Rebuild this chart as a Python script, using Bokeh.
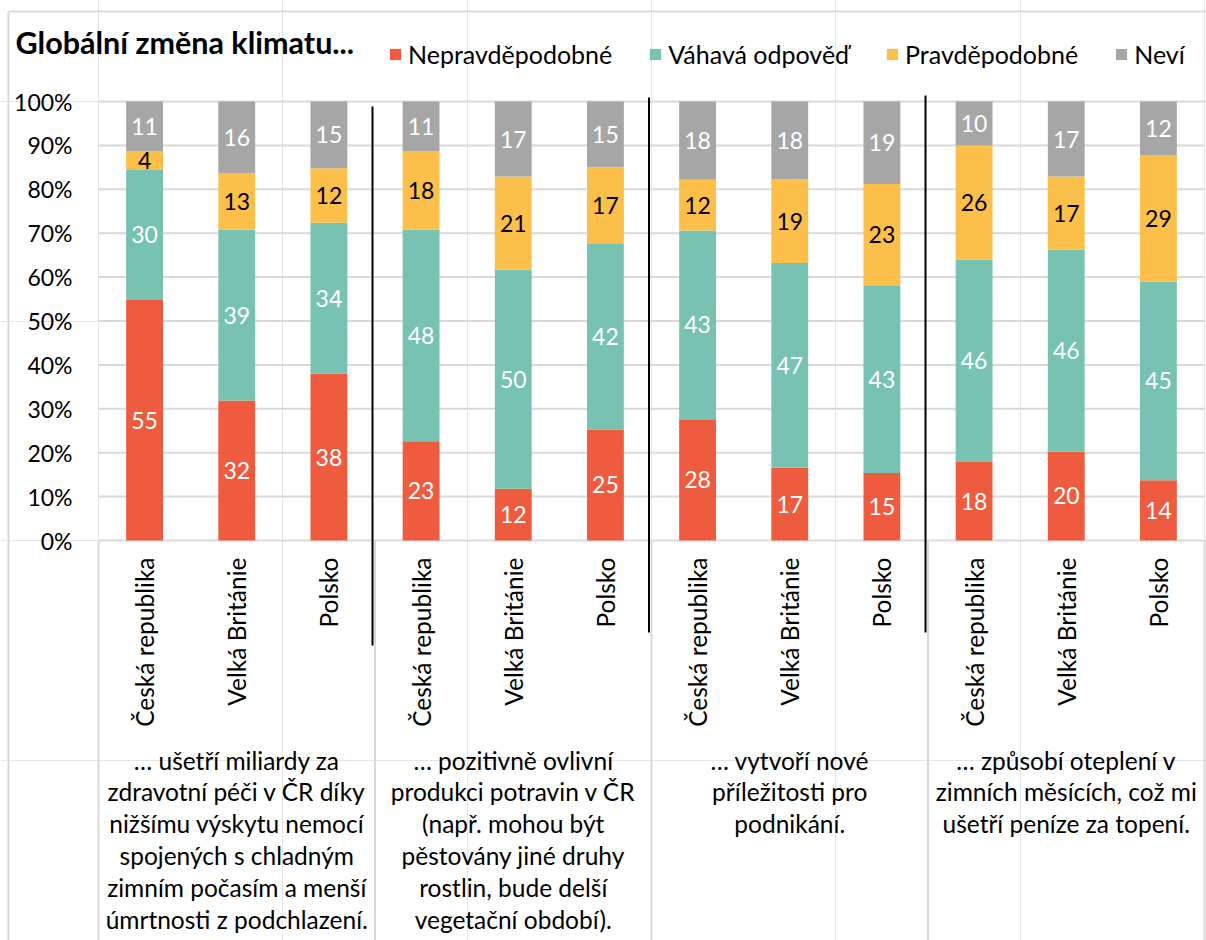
import numpy as np
from bokeh.plotting import figure
from bokeh.models import ColumnDataSource, Range1d, Legend, LegendItem
from bokeh.core.properties import value
from bokeh.embed import file_html
from bokeh.resources import INLINE

# ---------------- data ----------------
title_text = "Globální změna klimatu..."
series = ["Nepravděpodobné", "Váhavá odpověď", "Pravděpodobné", "Neví"]
countries = ["Česká republika", "Velká Británie", "Polsko"]
groups = [
    "… ušetří miliardy za\nzdravotní péči v ČR díky\nnižšímu výskytu nemocí\nspojených s chladným\nzimním počasím a menší\númrtnosti z podchlazení.",
    "… pozitivně ovlivní\nprodukci potravin v ČR\n(např. mohou být\npěstovány jiné druhy\nrostlin, bude delší\nvegetační období).",
    "… vytvoří nové\npříležitosti pro\npodnikání.",
    "… způsobí oteplení v\nzimních měsících, což mi\nušetří peníze za topení.",
]
nepravdepodobne = [54.8, 31.9, 38.0, 22.6, 11.8, 25.3, 27.6, 16.6, 15.4, 17.9, 20.3, 13.7]
vahava_odpoved = [29.6, 38.9, 34.4, 48.2, 49.9, 42.4, 43.0, 46.6, 42.6, 46.1, 46.0, 45.3]
pravdepodobne = [4.2, 12.8, 12.4, 17.8, 21.2, 17.3, 11.6, 19.1, 23.2, 26.0, 16.6, 28.7]
nevi = [11.4, 16.4, 15.2, 11.4, 17.1, 15.0, 17.8, 17.7, 18.8, 10.0, 17.1, 12.3]
y_ticks = list(range(0, 101, 10))
y_tick_labels = [f"{t}%" for t in y_ticks]

# ---------------- style / layout ----------------
colors = ["#EF5B3F", "#78C2B1", "#FCBF4A", "#A6A6A6"]
label_colors = ["#FFFFFF", "#FFFFFF", "#000000", "#FFFFFF"]
FONT = "Lato"
GRID = "#D9D9D9"
W, H = 1206, 940
PLOT_L, PLOT_R = 98, 1204      # pixel extent of the category area
ZERO_Y, TOP_Y = 540, 101       # pixel rows of 0 % and 100 %
n_slots = len(groups) * len(countries)
SLOT_PX = (PLOT_R - PLOT_L) / n_slots
PX_PER_PCT = (ZERO_Y - TOP_Y) / 100.0

def ydata(py):
    return (ZERO_Y - py) / PX_PER_PCT

def xdata(px):
    return (px - PLOT_L) / SLOT_PX

p = figure(width=W, height=H, output_backend="svg", toolbar_location=None,
           x_range=Range1d(xdata(0), xdata(W)), y_range=Range1d(ydata(H), ydata(0)),
           x_axis_location=None, y_axis_location=None, min_border=0)
p.outline_line_color = None
p.background_fill_color = "white"
p.border_fill_color = "white"

# outer chart border (left + top)
p.segment(x0=[xdata(8), xdata(8)], y0=[ydata(11), ydata(11)],
          x1=[xdata(8), xdata(W + 5)], y1=[ydata(H + 5), ydata(11)],
          line_color=GRID, line_width=2)

# horizontal gridlines
p.segment(x0=[0] * len(y_ticks), y0=y_ticks, x1=[n_slots] * len(y_ticks), y1=y_ticks,
          line_color=GRID, line_width=2)

# y tick labels
p.text(x=[xdata(72)] * len(y_ticks), y=y_ticks, text=y_tick_labels,
       text_font=value(FONT), text_font_size="23px", text_color="#000000",
       text_align="right", text_baseline="middle")

# category box lines (below 0)
bounds = [g * len(countries) for g in range(len(groups) + 1)]
p.segment(x0=bounds, y0=[0] * len(bounds), x1=bounds, y1=[ydata(H + 5)] * len(bounds),
          line_color=GRID, line_width=2)

# stacked bars
xs = [i + 0.5 for i in range(n_slots)]
src = ColumnDataSource(dict(x=xs, **{s: v for s, v in zip(series, [nepravdepodobne, vahava_odpoved, pravdepodobne, nevi])}))
rends = p.vbar_stack(series, x="x", width=0.4, source=src, fill_color=colors, line_color=None)

# data labels
vals = np.array([nepravdepodobne, vahava_odpoved, pravdepodobne, nevi])
tops = np.cumsum(vals, axis=0)
mids = tops - vals / 2
for k in range(len(series)):
    p.text(x=xs, y=list(mids[k]), text=[f"{v:.0f}" for v in vals[k]],
           text_font=value(FONT), text_font_size="23px", text_color=label_colors[k],
           text_align="center", text_baseline="middle")

# black separators between groups
sep_x = [b - 0.027 for b in bounds[1:-1]]
sep_top = [ydata(106), ydata(97), ydata(95)]
sep_bot = [ydata(645), ydata(632), ydata(632)]
p.segment(x0=sep_x, y0=sep_bot, x1=sep_x, y1=sep_top, line_color="#000000", line_width=2)

# country labels (rotated)
p.text(x=xs, y=[ydata(557)] * n_slots, text=countries * len(groups), angle=np.pi / 2,
       text_font=value(FONT), text_font_size="24.5px", text_color="#000000",
       text_align="right", text_baseline="middle")

# group labels
gx = [g * len(countries) + len(countries) / 2 for g in range(len(groups))]
p.text(x=gx, y=[ydata(745)] * len(groups), text=groups,
       text_font=value(FONT), text_font_size="24.5px", text_color="#000000",
       text_align="center", text_baseline="top", text_line_height=1.1)

# title
p.text(x=[xdata(15)], y=[ydata(41)], text=[title_text],
       text_font=value(FONT), text_font_size="30.5px", text_font_style="bold",
       text_color="#000000", text_align="left", text_baseline="middle")

# legend
legend = Legend(items=[LegendItem(label=s, renderers=[r]) for s, r in zip(series, rends)],
                orientation="horizontal", location=(388, H - 69),
                glyph_width=14, glyph_height=14, label_standoff=6, spacing=36,
                padding=0, margin=0, border_line_color=None, background_fill_alpha=0,
                label_text_font=FONT, label_text_font_size="25px", label_text_color="#000000",
                label_height=24)
p.add_layout(legend)

open("out.html", "w").write(file_html(p, INLINE))
